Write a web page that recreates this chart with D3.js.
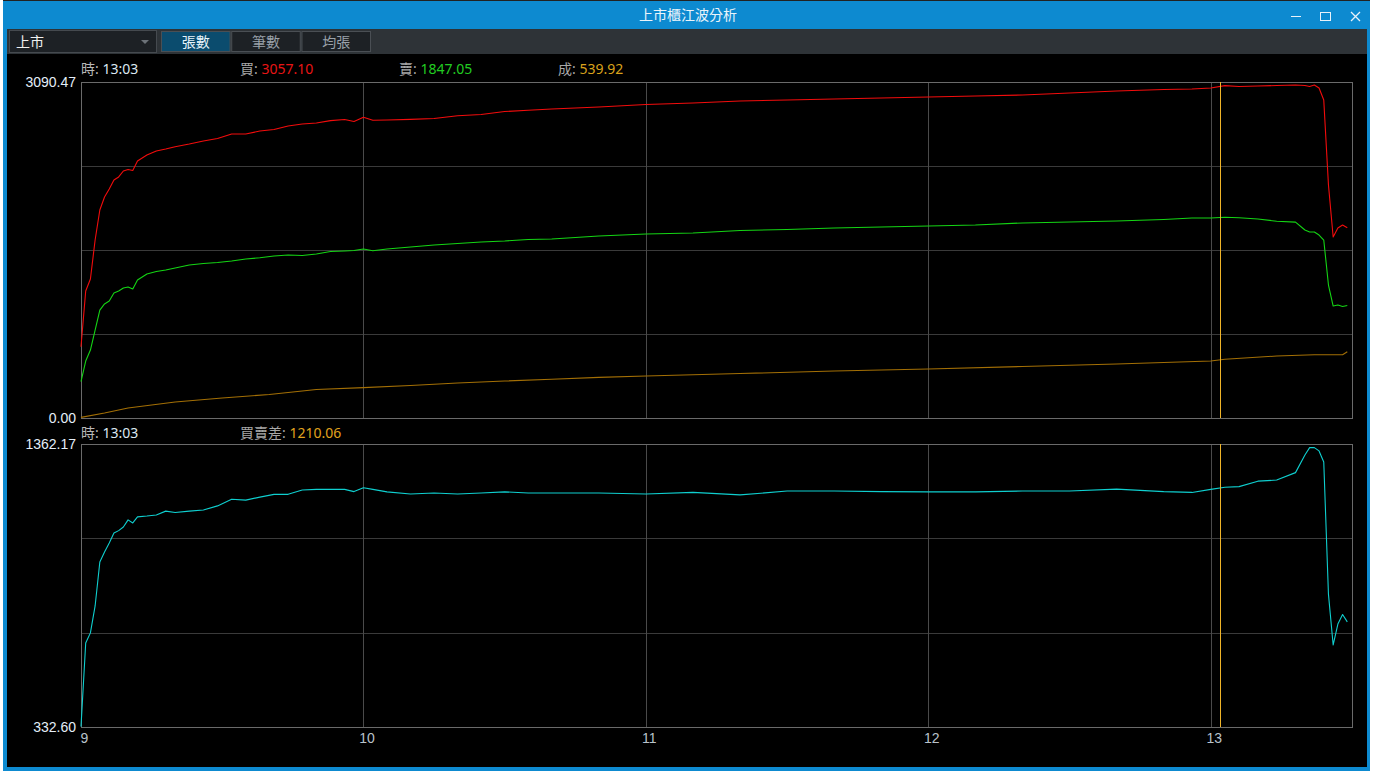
<!DOCTYPE html>
<html>
<head>
<meta charset="utf-8">
<style>
  html, body { margin: 0; padding: 0; background: #fff; }
  svg { display: block; font-family: "Noto Sans", "Noto Sans CJK TC", sans-serif; }
</style>
<script src="https://cdn.jsdelivr.net/npm/d3@7"></script>
</head>
<body>
<svg id="chart" width="1380" height="771"></svg>
<script>
// minutes after 09:00
const times = [0,1,2,3,4,5,6,7,8,9,10,11,12,14,16,18,20,23,26,29,32,35,38,41,44,47,50,53,56,58,
  60,62,65,70,75,80,85,90,95,100,110,120,130,140,150,160,170,180,190,200,210,220,230,236,240,243,
  246,250,254,258,260,261,262,263,264,265,266,267,268,269];

// 買
const buyVals = [656,1168,1279,1637,1913,2033,2106,2189,2217,2272,2286,2277,2364,2419,2456,2474,2495,2520,2548,2571,2612,2612,2640,2654,2686,2704,2713,2735,2746,2727,
  2766,2738,2741,2747,2755,2780,2792,2819,2831,2842,2861,2884,2897,2916,2925,2934,2943,2953,2962,2971,2989,3008,3022,3026,3035,3057,
  3049,3054,3058,3063,3058,3049,3063,3035,2925,2143,1665,1748,1775,1750];

// 賣
const sellVals = [334,524,625,809,993,1049,1076,1150,1168,1196,1205,1187,1269,1325,1347,1361,1380,1407,1421,1430,1444,1462,1474,1490,1499,1495,1508,1531,1536,1541,
  1554,1539,1554,1573,1591,1605,1619,1628,1642,1646,1674,1692,1702,1725,1734,1748,1757,1766,1775,1794,1803,1812,1826,1840,1840,1847,
  1842,1830,1810,1802,1729,1711,1711,1683,1637,1223,1030,1039,1026,1035];

// 買賣差
const diffVals = [334,638,675,773,933,969,1002,1038,1047,1060,1086,1075,1097,1100,1104,1118,1113,1118,1122,1137,1161,1158,1169,1179,1179,1195,1197,1197,1197,1189,
  1203,1197,1188,1180,1184,1180,1184,1188,1184,1184,1184,1180,1186,1177,1191,1191,1189,1188,1188,1191,1191,1198,1189,1186,1197,1205,
  1207,1227,1231,1258,1322,1349,1349,1337,1297,815,631,707,742,715];

// 成
const volTimes = [0,5,10,15,20,30,40,50,60,70,80,90,100,110,120,140,160,180,200,220,240,243,254,262,268,269];
const volVals  = [6,46,92,120,147,184,216,262,279,299,322,340,356,374,386,409,432,451,474,497,524,540,570,582,582,610];

const hourTicks  = [0, 60, 120, 180, 240];
const hourLabels = ['9', '10', '11', '12', '13'];
const topExtent    = [0, 3090.47];
const bottomExtent = [332.60, 1362.17];
const cursorMinute = 242;
const cursorTime = '13:03';
const topInfo = [
  { name: '買', value: '3057.10', color: '#e81515', x: 240 },
  { name: '賣', value: '1847.05', color: '#22cc22', x: 399 },
  { name: '成', value: '539.92',  color: '#d9a21b', x: 558 }
];
const bottomInfo = [{ name: '買賣差', value: '1210.06', color: '#e0a31e', x: 240 }];
const tabs = ['張數', '筆數', '均張'];

const svg = d3.select('#chart');
const fs = '14px';

// ---- window chrome ----
svg.append('rect').attr('x', 3).attr('y', 0).attr('width', 1367).attr('height', 771).attr('fill', '#0d8ad0');
svg.append('rect').attr('x', 3).attr('y', 0).attr('width', 1367).attr('height', 1).attr('fill', '#222');
svg.append('text').attr('x', 688).attr('y', 20).attr('text-anchor', 'middle')
  .attr('fill', '#eaf4fb').style('font-size', fs).text('上市櫃江波分析');
svg.append('line').attr('x1', 1291).attr('x2', 1301).attr('y1', 16.5).attr('y2', 16.5).attr('stroke', '#e8f2fa');
svg.append('rect').attr('x', 1320.5).attr('y', 12.5).attr('width', 10).attr('height', 8).attr('fill', 'none').attr('stroke', '#e8f2fa');
svg.append('path').attr('d', 'M1351,12L1360,21M1360,12L1351,21').attr('stroke', '#e8f2fa').attr('stroke-width', 1.3);

svg.append('rect').attr('x', 7).attr('y', 29).attr('width', 1360).attr('height', 25).attr('fill', '#2e3337');
svg.append('rect').attr('x', 7).attr('y', 54).attr('width', 1360).attr('height', 713).attr('fill', '#000');

// dropdown
svg.append('rect').attr('x', 9.5).attr('y', 30.5).attr('width', 147).attr('height', 22)
  .attr('fill', '#1d2125').attr('stroke', '#454a4f');
svg.append('text').attr('x', 16).attr('y', 47).attr('fill', '#f0f0f0').style('font-size', fs).text('上市');
svg.append('path').attr('d', 'M141,40L149,40L145,44Z').attr('fill', '#6c7278');

// tabs
const tabX = d3.scaleBand().domain(tabs).range([161, 371]).paddingInner(0.01);
const tab = svg.selectAll('g.tab').data(tabs).enter().append('g').attr('class', 'tab');
tab.append('rect').attr('x', d => tabX(d) + 0.5).attr('y', 31.5).attr('width', tabX.bandwidth() - 1).attr('height', 20)
  .attr('fill', (d, i) => i === 0 ? '#0b4c6e' : '#1d2125').attr('stroke', '#4a4f54');
tab.append('text').attr('x', d => tabX(d) + tabX.bandwidth() / 2).attr('y', 46.5).attr('text-anchor', 'middle')
  .attr('fill', (d, i) => i === 0 ? '#e8f4fb' : '#9aa2aa').style('font-size', fs).text(d => d);

// ---- charts ----
const left = 81, right = 1352;
const x = d3.scaleLinear().domain([0, 270]).range([left, right]);
const yTop = d3.scaleLinear().domain(topExtent).range([418, 82]);
const yBot = d3.scaleLinear().domain(bottomExtent).range([727, 444]);

function panel(y, extent, hLines) {
  const g = svg.append('g');
  const [y0, y1] = y.range();
  // horizontal grid
  const steps = d3.range(1, hLines).map(i => extent[0] + (extent[1] - extent[0]) * i / hLines);
  g.selectAll('line.h').data(steps).enter().append('line')
    .attr('x1', left).attr('x2', right)
    .attr('y1', d => Math.round(y(d)) + 0.5).attr('y2', d => Math.round(y(d)) + 0.5)
    .attr('stroke', '#3a3a3a');
  // vertical grid
  g.selectAll('line.v').data(hourTicks.slice(1)).enter().append('line')
    .attr('x1', d => Math.round(x(d)) + 0.5).attr('x2', d => Math.round(x(d)) + 0.5)
    .attr('y1', y1).attr('y2', y0)
    .attr('stroke', '#4a4a4a');
  g.append('rect').attr('x', left + 0.5).attr('y', y1 + 0.5).attr('width', right - left).attr('height', y0 - y1)
    .attr('fill', 'none').attr('stroke', '#6a6a6a');
  // y labels
  const ax = g.append('g').attr('transform', `translate(${left - 3},0)`)
    .call(d3.axisLeft(y).tickValues(extent).tickSize(0).tickPadding(2).tickFormat(d3.format('.2f')));
  ax.select('.domain').remove();
  ax.selectAll('text').attr('fill', '#e4eef8').style('font-size', fs).style('font-family', null);
  return g;
}

function drawLine(g, xs, ys, y, color) {
  const line = d3.line().x((d, i) => x(xs[i])).y(d => y(d));
  g.append('path').datum(ys).attr('d', line)
    .attr('fill', 'none').attr('stroke', color).attr('stroke-width', 1.1).attr('stroke-linejoin', 'round');
}

function info(yPos, items) {
  const t = svg.append('text').attr('x', left).attr('y', yPos).style('font-size', fs);
  t.append('tspan').attr('fill', '#b8b8b8').text('時: ');
  t.append('tspan').attr('fill', '#dce8f2').text(cursorTime);
  items.forEach(d => {
    const s = svg.append('text').attr('x', d.x).attr('y', yPos).style('font-size', fs);
    s.append('tspan').attr('fill', '#a8a8a8').text(d.name + ': ');
    s.append('tspan').attr('fill', d.color).text(d.value);
  });
}

const topG = panel(yTop, topExtent, 4);
drawLine(topG, volTimes, volVals, yTop, '#a36f05');
drawLine(topG, times, sellVals, yTop, '#14d414');
drawLine(topG, times, buyVals, yTop, '#f20c0c');

const botG = panel(yBot, bottomExtent, 3);
drawLine(botG, times, diffVals, yBot, '#0fcfcf');

// cursor
[[82, 418], [444, 727]].forEach(r => {
  svg.append('line').attr('x1', Math.round(x(cursorMinute)) + 0.5).attr('x2', Math.round(x(cursorMinute)) + 0.5)
    .attr('y1', r[0]).attr('y2', r[1]).attr('stroke', '#f0b428');
});

info(74, topInfo);
info(438, bottomInfo);

// x axis
const xa = svg.append('g').attr('transform', 'translate(3,729)')
  .call(d3.axisBottom(x).tickValues(hourTicks).tickSize(0).tickPadding(4).tickFormat((d, i) => hourLabels[i]));
xa.select('.domain').remove();
xa.selectAll('text').attr('fill', '#b9c2ca').style('font-size', fs).style('font-family', null);
</script>
</body>
</html>
